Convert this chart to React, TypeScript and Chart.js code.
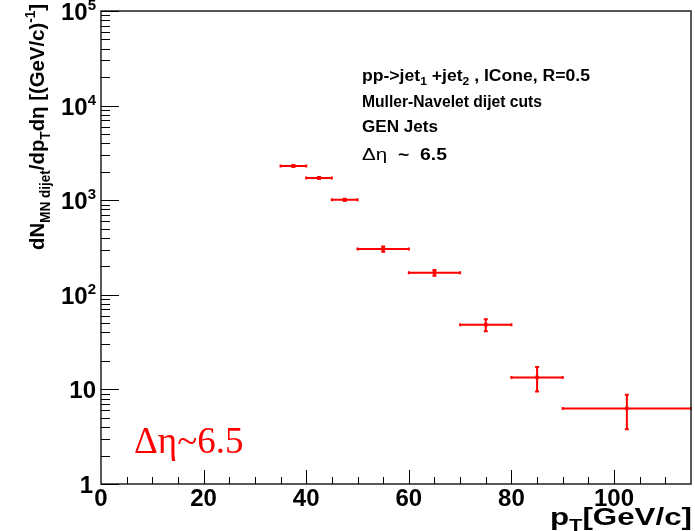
import React, { useEffect, useRef } from "react";
import { Chart, registerables } from "chart.js";

Chart.register(...registerables);

// ---- data ----
const binLow = [35, 40, 45, 50, 60, 70, 80, 90];
const binHigh = [40, 45, 50, 60, 70, 80, 90, 115];
const yValues = [2300, 1720, 1010, 305, 171, 48.3, 13.4, 6.3];
const yErrors = [40, 35, 25, 20, 12, 7, 3.9, 2.5];

const xTicks = [0, 20, 40, 60, 80, 100];
const xTickLabels = ["0", "20", "40", "60", "80", "100"];
const yTicks = [1, 10, 100, 1000, 10000, 100000];
const yTickBase = ["1", "10", "10", "10", "10", "10"];
const yTickExp = ["", "", "2", "3", "4", "5"];

const xMin = 0;
const xMax = 115;
const yMin = 1;
const yMax = 100000;

const SANS = '"Liberation Sans", Arial, Helvetica, sans-serif';
const SERIF = '"Liberation Serif", "Times New Roman", serif';

type Seg = { t: string; size: number; dy?: number; bold?: boolean; family?: string };

function segFont(s: Seg) {
  return `${s.bold === false ? "" : "bold "}${s.size}px ${s.family || SANS}`;
}

function richWidth(ctx: CanvasRenderingContext2D, segs: Seg[]) {
  let w = 0;
  for (const s of segs) {
    ctx.font = segFont(s);
    w += ctx.measureText(s.t).width;
  }
  return w;
}

// draws rich text; if targetW given, stretches horizontally to that width
function drawRich(
  ctx: CanvasRenderingContext2D,
  segs: Seg[],
  x: number,
  y: number,
  align: "left" | "right" | "center",
  targetW?: number
) {
  const w0 = richWidth(ctx, segs);
  const sx = targetW ? targetW / w0 : 1;
  const w = w0 * sx;
  const startX = align === "left" ? x : align === "right" ? x - w : x - w / 2;
  ctx.save();
  ctx.translate(startX, y);
  ctx.scale(sx, 1);
  ctx.textAlign = "left";
  ctx.textBaseline = "alphabetic";
  let cx = 0;
  for (const s of segs) {
    ctx.font = segFont(s);
    ctx.fillText(s.t, cx, s.dy || 0);
    cx += ctx.measureText(s.t).width;
  }
  ctx.restore();
}

const infoLines: Seg[][] = [
  [
    { t: "pp->jet", size: 16 },
    { t: "1", size: 11, dy: 4 },
    { t: " +jet", size: 16 },
    { t: "2", size: 11, dy: 4 },
    { t: " , ICone, R=0.5", size: 16 },
  ],
  [{ t: "Muller-Navelet dijet cuts", size: 16 }],
  [{ t: "GEN Jets", size: 16 }],
  [
    { t: "\u0394\u03b7", size: 17, bold: false },
    { t: "  ~  6.5", size: 16 },
  ],
];
const infoWidths = [228, 180, 76, 85];
const infoBaselines = [81, 107, 132, 160];

const yTitle: Seg[] = [
  { t: "dN", size: 21 },
  { t: "MN dijet", size: 14, dy: 6 },
  { t: "/dp", size: 21 },
  { t: "T", size: 14, dy: 6 },
  { t: "d\u03b7 [(GeV/c)", size: 21 },
  { t: "-1", size: 14, dy: -9 },
  { t: "]", size: 21 },
];

const xTitle: Seg[] = [
  { t: "p", size: 23 },
  { t: "T", size: 16, dy: 6 },
  { t: "[GeV/c]", size: 23 },
];

const rootPlugin = {
  id: "rootStyle",
  beforeDatasetsDraw(chart: any) {
    const ctx: CanvasRenderingContext2D = chart.ctx;
    const xs = chart.scales.x;
    const ys = chart.scales.y;
    const a = chart.chartArea;
    ctx.save();
    ctx.beginPath();
    ctx.rect(a.left, a.top, a.right - a.left + 1, a.bottom - a.top);
    ctx.clip();
    ctx.strokeStyle = "#ff0000";
    ctx.lineWidth = 2;
    for (let i = 0; i < yValues.length; i++) {
      const xc = xs.getPixelForValue((binLow[i] + binHigh[i]) / 2);
      const x0 = xs.getPixelForValue(binLow[i]);
      const x1 = xs.getPixelForValue(binHigh[i]);
      const py = ys.getPixelForValue(yValues[i]);
      const pHi = ys.getPixelForValue(yValues[i] + yErrors[i]);
      const pLo = ys.getPixelForValue(yValues[i] - yErrors[i]);
      ctx.beginPath();
      ctx.moveTo(x0, py);
      ctx.lineTo(x1, py);
      ctx.moveTo(x0, py - 1.5);
      ctx.lineTo(x0, py + 1.5);
      ctx.moveTo(x1, py - 1.5);
      ctx.lineTo(x1, py + 1.5);
      ctx.moveTo(xc, pHi);
      ctx.lineTo(xc, pLo);
      ctx.moveTo(xc - 2, pHi);
      ctx.lineTo(xc + 2, pHi);
      ctx.moveTo(xc - 2, pLo);
      ctx.lineTo(xc + 2, pLo);
      ctx.stroke();
    }
    ctx.restore();
  },
  afterDraw(chart: any) {
    const ctx: CanvasRenderingContext2D = chart.ctx;
    const xs = chart.scales.x;
    const ys = chart.scales.y;
    const a = chart.chartArea;
    ctx.save();
    // frame
    ctx.strokeStyle = "#222";
    ctx.lineWidth = 1.5;
    ctx.strokeRect(a.left, a.top, a.right - a.left, a.bottom - a.top);

    // x ticks (inside)
    ctx.lineWidth = 1;
    ctx.strokeStyle = "#000";
    ctx.beginPath();
    for (let v = xMin + 5; v < xMax; v += 5) {
      const px = Math.round(xs.getPixelForValue(v)) + 0.5;
      const len = v % 20 === 0 ? 14 : 7;
      ctx.moveTo(px, a.bottom);
      ctx.lineTo(px, a.bottom - len);
    }
    // y ticks (inside)
    for (let d = 0; d < yTicks.length; d++) {
      const base = yTicks[d];
      const py = Math.round(ys.getPixelForValue(base)) + 0.5;
      ctx.moveTo(a.left, py);
      ctx.lineTo(a.left + 18, py);
      if (base < yMax) {
        for (let k = 2; k <= 9; k++) {
          const pm = Math.round(ys.getPixelForValue(base * k)) + 0.5;
          ctx.moveTo(a.left, pm);
          ctx.lineTo(a.left + 9, pm);
        }
      }
    }
    ctx.stroke();

    // x tick labels
    ctx.fillStyle = "#000";
    ctx.font = `bold 24px ${SANS}`;
    ctx.textAlign = "center";
    ctx.textBaseline = "alphabetic";
    xTicks.forEach((v, i) => {
      ctx.fillText(xTickLabels[i], xs.getPixelForValue(v), a.bottom + 22);
    });

    // y tick labels
    yTicks.forEach((v, i) => {
      const py = ys.getPixelForValue(v);
      ctx.textAlign = "right";
      if (yTickExp[i]) {
        ctx.font = `bold 15px ${SANS}`;
        const ew = ctx.measureText(yTickExp[i]).width;
        ctx.fillText(yTickExp[i], 96, py - 1);
        ctx.font = `bold 24px ${SANS}`;
        ctx.fillText(yTickBase[i], 96 - ew, py + 9);
      } else {
        ctx.font = `bold 24px ${SANS}`;
        ctx.fillText(yTickBase[i], i === 0 ? 93 : 96, py + 9);
      }
    });

    // axis titles
    ctx.fillStyle = "#000";
    drawRich(ctx, xTitle, 692, 525, "right", 142);
    ctx.save();
    ctx.translate(44, 127);
    ctx.rotate(-Math.PI / 2);
    drawRich(ctx, yTitle, 0, 0, "center", 246);
    ctx.restore();

    // info text
    infoLines.forEach((segs, i) => {
      ctx.fillStyle = "#000";
      drawRich(ctx, segs, 362, infoBaselines[i], "left", infoWidths[i]);
    });

    // red label
    ctx.fillStyle = "#ff0000";
    ctx.font = `37px ${SERIF}`;
    ctx.textAlign = "left";
    ctx.fillText("\u0394\u03b7~6.5", 134, 453);
    ctx.restore();
  },
};

export default function App() {
  const ref = useRef<HTMLCanvasElement | null>(null);
  useEffect(() => {
    if (!ref.current) return;
    const points = yValues.map((y, i) => ({ x: (binLow[i] + binHigh[i]) / 2, y }));
    const chart = new Chart(ref.current, {
      type: "scatter",
      data: {
        datasets: [
          {
            data: points,
            pointStyle: "rect",
            pointRadius: 2.5,
            backgroundColor: "#ff0000",
            borderColor: "#ff0000",
            borderWidth: 0,
          },
        ],
      },
      options: {
        responsive: false,
        animation: false,
        events: [],
        layout: { padding: { left: 101, top: 11, right: 2, bottom: 47 } },
        scales: {
          x: { type: "linear", min: xMin, max: xMax, display: false },
          y: { type: "logarithmic", min: yMin, max: yMax, display: false },
        },
        plugins: { legend: { display: false }, tooltip: { enabled: false } },
      },
      plugins: [rootPlugin],
    });
    return () => chart.destroy();
  }, []);
  return (
    <div style={{ position: "absolute", left: 0, top: 0, width: 695, height: 531, background: "#fff" }}>
      <canvas ref={ref} width={695} height={531} />
    </div>
  );
}
